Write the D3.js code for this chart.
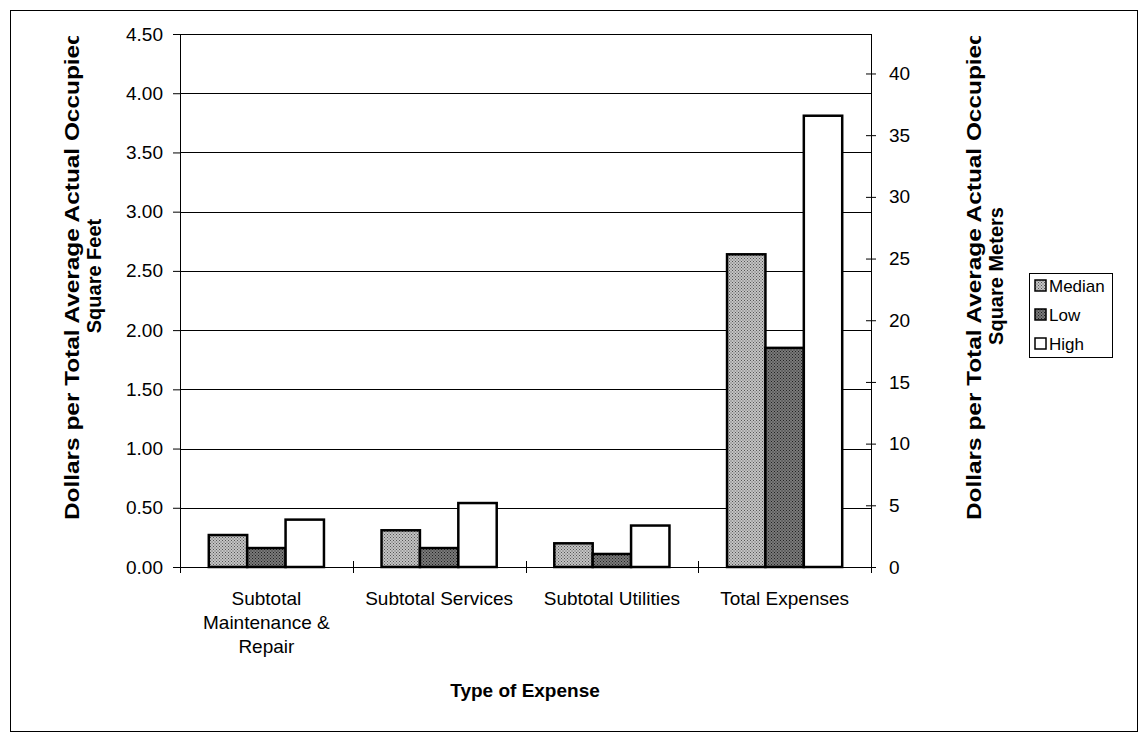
<!DOCTYPE html>
<html><head><meta charset="utf-8">
<script src="https://cdn.jsdelivr.net/npm/d3@7"></script>
<style>
html,body{margin:0;padding:0;background:#fff;}
text{font-family:"Liberation Sans",Arial,sans-serif;fill:#000;}
</style></head>
<body>
<svg id="c" width="1148" height="742"></svg>
<script>
const categories = [["Subtotal","Maintenance &","Repair"],["Subtotal Services"],["Subtotal Utilities"],["Total Expenses"]];
const seriesNames = ["Median","Low","High"];
const medianValues = [0.27, 0.31, 0.20, 2.64];
const lowValues = [0.16, 0.16, 0.11, 1.85];
const highValues = [0.40, 0.54, 0.35, 3.81];
const leftTicks = [0,0.5,1,1.5,2,2.5,3,3.5,4,4.5];
const rightTicks = [0,5,10,15,20,25,30,35,40];
const leftMax = 4.5, rightMax = 43.2;
const xTitle = "Type of Expense";
const yTitle = ["Dollars per Total Average Actual Occupied","Square Feet"];
const y2Title = ["Dollars per Total Average Actual Occupied","Square Meters"];

const svg = d3.select("#c");
const W=1148,H=742;
const m={l:180,r:871,t:34,b:567};
svg.append("rect").attr("x",0).attr("y",0).attr("width",W).attr("height",H).attr("fill","#fff");
svg.append("rect").attr("x",10.5).attr("y",10.5).attr("width",1127).attr("height",721).attr("fill","none").attr("stroke","#000").attr("stroke-width",1);

const defs=svg.append("defs");
function pat(id,bg,fg){
  const p=defs.append("pattern").attr("id",id).attr("width",3).attr("height",3).attr("patternUnits","userSpaceOnUse");
  p.append("rect").attr("width",3).attr("height",3).attr("fill",bg);
  p.append("rect").attr("x",0).attr("y",0).attr("width",1).attr("height",1).attr("fill",fg);
  p.append("rect").attr("x",1.5).attr("y",1.5).attr("width",1).attr("height",1).attr("fill",fg);
}
pat("pMed","#c4c4c4","#555");
pat("pLow","#7a7a7a","#222");
const fills={Median:"url(#pMed)",Low:"url(#pLow)",High:"#fff"};

const x=d3.scaleBand().domain(d3.range(categories.length)).range([m.l,m.r]).paddingInner(0).paddingOuter(0);
const bw=x.bandwidth();
const xs=d3.scaleBand().domain(seriesNames).range([bw/6,bw*5/6]);
const y=d3.scaleLinear().domain([0,leftMax]).range([m.b,m.t]);
const y2=d3.scaleLinear().domain([0,rightMax]).range([m.b,m.t]);

// gridlines
svg.append("g").selectAll("line").data(leftTicks.filter(d=>d>0)).join("line")
  .attr("x1",m.l).attr("x2",m.r).attr("y1",d=>Math.round(y(d))+0.5).attr("y2",d=>Math.round(y(d))+0.5)
  .attr("stroke","#000").attr("stroke-width",1);

// bars
const data=[medianValues,lowValues,highValues];
const g=svg.append("g");
seriesNames.forEach((s,si)=>{
  g.selectAll(null).data(data[si]).join("rect")
   .attr("x",(d,i)=>x(i)+xs(s)).attr("width",xs.bandwidth())
   .attr("y",d=>y(d)).attr("height",d=>y(0)-y(d))
   .attr("fill",fills[s]).attr("stroke","#000").attr("stroke-width",2.5);
});

// left axis
const ga=svg.append("g").attr("transform",`translate(${m.l},0)`)
  .call(d3.axisLeft(y).tickValues(leftTicks).tickFormat(d3.format(".2f")).tickSize(7).tickPadding(10));
ga.selectAll("text").style("font-size","19px");
ga.selectAll("line,path").attr("stroke","#000");
ga.select(".domain").attr("d",`M0.5,${m.t}V${m.b}`);

// right axis
const gr=svg.append("g").attr("transform",`translate(${m.r},0)`)
  .call(d3.axisRight(y2).tickValues(rightTicks).tickFormat(d3.format("d")).tickSize(5).tickPadding(13));
gr.selectAll(".tick line").attr("x1",-5);
gr.selectAll("text").style("font-size","19px");
gr.selectAll("line,path").attr("stroke","#000");
gr.select(".domain").attr("d",`M0.5,${m.t}V${m.b}`);

// bottom axis line and ticks
svg.append("line").attr("x1",m.l).attr("x2",m.r).attr("y1",m.b+0.5).attr("y2",m.b+0.5).attr("stroke","#000");
svg.append("g").selectAll("line").data(d3.range(categories.length+1)).join("line")
  .attr("x1",i=>Math.round(m.l+i*bw)+0.5).attr("x2",i=>Math.round(m.l+i*bw)+0.5)
  .attr("y1",m.b-6).attr("y2",m.b+6).attr("stroke","#000");

// category labels
const cl=svg.append("g");
categories.forEach((lines,i)=>{
  lines.forEach((t,li)=>{
    cl.append("text").attr("x",x(i)+bw/2).attr("y",605+li*24).attr("text-anchor","middle")
      .style("font-size","19px").text(t);
  });
});
svg.append("text").attr("x",525).attr("y",697).attr("text-anchor","middle")
  .style("font-size","19px").style("font-weight","bold").text(xTitle);

// axis titles (clipped at top)
defs.append("clipPath").attr("id","clipT").append("rect").attr("x",0).attr("y",36).attr("width",W).attr("height",H-36);
const tg=svg.append("g").attr("clip-path","url(#clipT)");
function vTitle(lines,bx){
  tg.append("text").attr("transform",`translate(${bx[0]},520) rotate(-90)`).attr("text-anchor","start")
    .attr("textLength",490).attr("lengthAdjust","spacingAndGlyphs")
    .style("font-size","20px").style("font-weight","bold").text(lines[0]);
  tg.append("text").attr("transform",`translate(${bx[1]},276) rotate(-90)`).attr("text-anchor","middle")
    .style("font-size","20px").style("font-weight","bold").text(lines[1]);
}
vTitle(yTitle,[79,101]);
vTitle(y2Title,[981,1003]);

// legend
const lg=svg.append("g");
lg.append("rect").attr("x",1029.5).attr("y",273.5).attr("width",83).attr("height",84).attr("fill","#fff").attr("stroke","#000");
seriesNames.forEach((s,i)=>{
  const cy=286+i*29;
  lg.append("rect").attr("x",1035).attr("y",cy-6).attr("width",11).attr("height",11)
    .attr("fill",fills[s]).attr("stroke","#000").attr("stroke-width",1.5);
  lg.append("text").attr("x",1049).attr("y",cy+6).style("font-size","17px").text(s);
});
</script>
</body></html>
